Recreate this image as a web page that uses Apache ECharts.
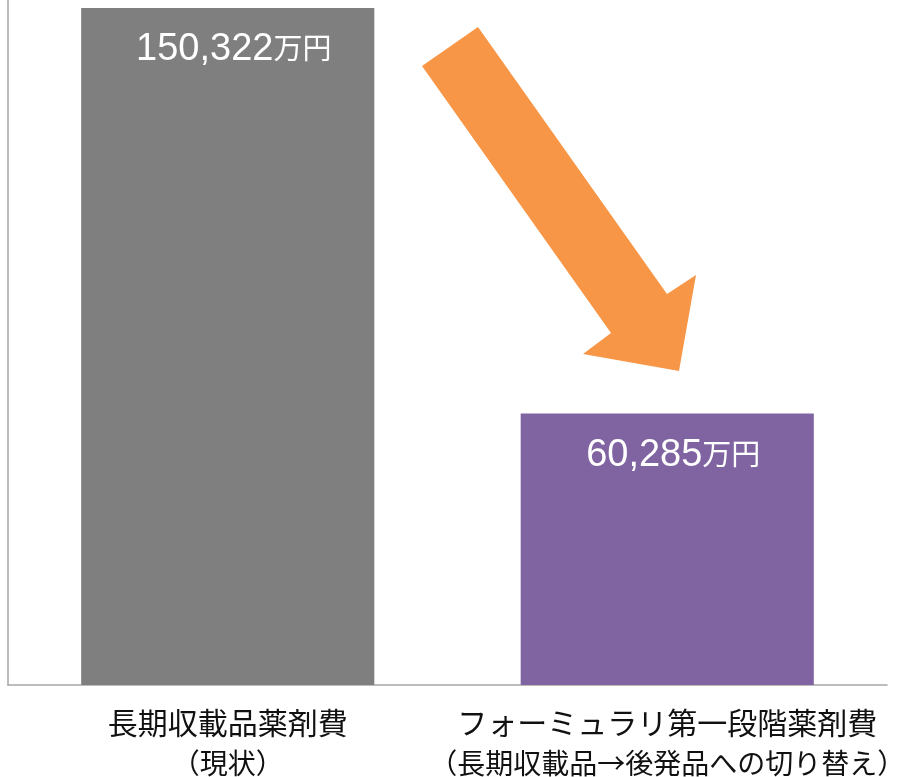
<!DOCTYPE html>
<html>
<head>
<meta charset="utf-8">
<script src="https://cdn.jsdelivr.net/npm/echarts@6/dist/echarts.min.js"></script>
<style>
  html, body { margin: 0; padding: 0; background: #fff; }
</style>
</head>
<body>
<div id="chart" style="width: 902px; height: 777px"></div>
<script>
// 薬剤費の比較（万円）
const categories = [
  '長期収載品薬剤費\n（現状）',
  'フォーミュラリ第一段階薬剤費\n（長期収載品→後発品への切り替え）'
];
const costValues = [150322, 60285];
const barColors = ['#7f7f7f', '#8064a2'];

const chart = echarts.init(document.getElementById('chart'));

// 1行目と2行目で文字サイズを変える
function categoryFormatter(text) {
  const lines = text.split('\n');
  return '{a|' + lines[0] + '}\n{b|' + lines[1] + '}';
}

const option = {
  animation: false,
  grid: {
    left: 8, right: 15, top: 0, bottom: 92,
    containLabel: false,
    outerBoundsMode: 'none'
  },
  xAxis: {
    type: 'category',
    data: categories,
    axisLine: { lineStyle: { color: '#a6a6a6', width: 1.5 } },
    axisTick: { show: false },
    axisLabel: {
      interval: 0,
      margin: 17,
      formatter: categoryFormatter,
      rich: {
        a: {
          color: '#111',
          fontSize: 30,
          lineHeight: 41,
          fontFamily: '"Noto Sans CJK JP", sans-serif'
        },
        b: {
          color: '#111',
          fontSize: 28,
          lineHeight: 41,
          fontFamily: '"Noto Sans CJK JP", sans-serif'
        }
      }
    }
  },
  yAxis: {
    type: 'value',
    min: 0,
    max: 152100,
    axisLine: { show: true, lineStyle: { color: '#a6a6a6', width: 1.5 } },
    axisTick: { show: false },
    axisLabel: { show: false },
    splitLine: { show: false }
  },
  series: [{
    type: 'bar',
    barCategoryGap: '33.3%',
    data: costValues.map((v, i) => ({ value: v, itemStyle: { color: barColors[i] } })),
    label: {
      show: true,
      position: 'insideTop',
      distance: 22,
      offset: [6, 0],
      formatter: p => '{n|' + p.value.toLocaleString('en-US') + '}{u|万円}',
      rich: {
        n: {
          color: '#fff',
          fontSize: 38,
          lineHeight: 40,
          fontFamily: '"Liberation Sans", Arial, sans-serif'
        },
        u: {
          color: '#fff',
          fontSize: 29,
          lineHeight: 40,
          padding: [0, 0, 4, 0],
          fontFamily: '"Noto Sans CJK JP", sans-serif'
        }
      }
    }
  }],
  // 減少を示す矢印（装飾）
  graphic: [{
    type: 'polygon',
    shape: {
      points: [[422, 66], [478, 27], [667, 294], [696, 275], [679, 371], [583, 354], [611, 333]]
    },
    style: { fill: '#f79646' },
    z: 10
  }]
};

chart.setOption(option);
</script>
</body>
</html>
